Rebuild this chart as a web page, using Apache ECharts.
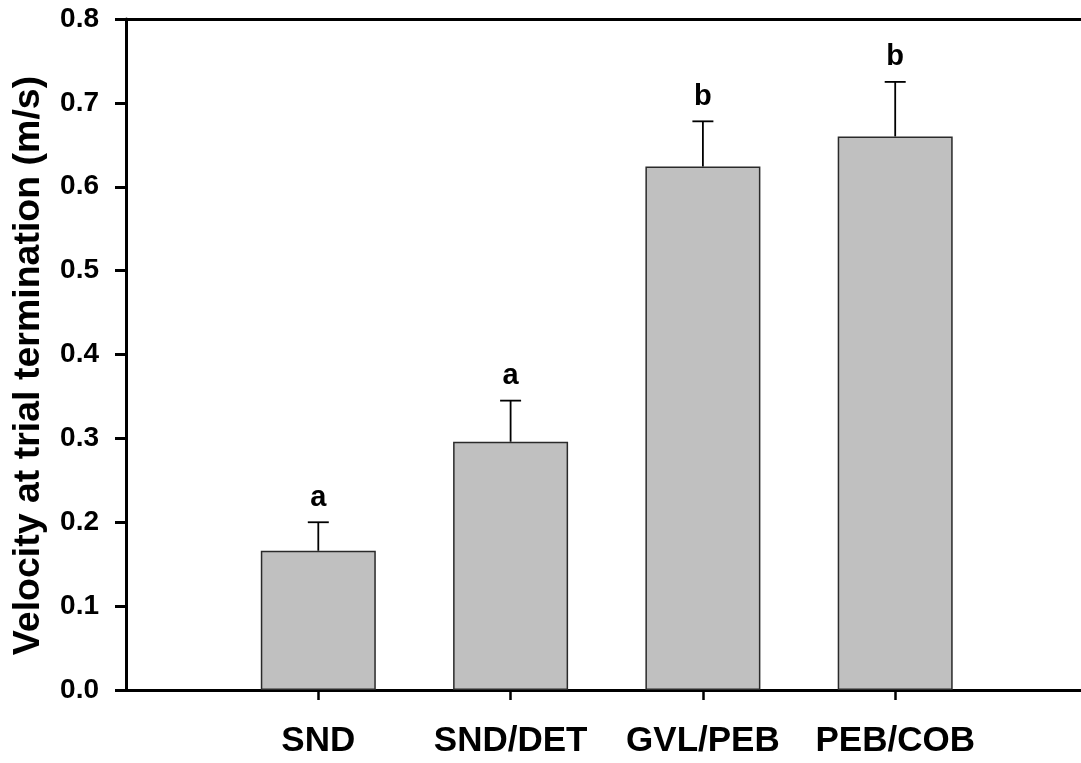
<!DOCTYPE html>
<html><head><meta charset="utf-8">
<script src="https://cdn.jsdelivr.net/npm/echarts@6/dist/echarts.min.js"></script>
<style>html,body{margin:0;padding:0;background:#fff}#c{width:1081px;height:763px}</style>
</head><body><div id="c"></div>
<script>
const categories = ['SND', 'SND/DET', 'GVL/PEB', 'PEB/COB'];
const means = [0.166, 0.296, 0.624, 0.660];
const errUpper = [0.200, 0.345, 0.678, 0.725];
const letters = ['a', 'a', 'b', 'b'];
const yTitle = 'Velocity at trial termination (m/s)';

const axisCats = [''].concat(categories, ['']);
const barData = ['-'].concat(means, ['-']);
const errData = categories.map((c, i) => [i + 1, means[i], errUpper[i]]);
const FONT = '"Liberation Sans", Arial, Helvetica, sans-serif';

const chart = echarts.init(document.getElementById('c'), null, {renderer: 'canvas'});
chart.setOption({
  animation: false,
  backgroundColor: '#fff',
  grid: {left: 126, top: 19, width: 961.5, bottom: 73, containLabel: false, outerBoundsMode: 'none'},
  xAxis: [{
    type: 'category', data: axisCats, boundaryGap: false, position: 'bottom',
    axisLine: {show: true, lineStyle: {color: '#000', width: 3}},
    axisTick: {show: true, inside: false, length: 10, alignWithLabel: true,
      interval: (idx) => idx >= 1 && idx <= categories.length,
      lineStyle: {color: '#000', width: 2.5}},
    axisLabel: {interval: 0, margin: 34, color: '#000', fontSize: 35, fontWeight: 'bold', fontFamily: FONT},
    splitLine: {show: false}
  }, {
    type: 'category', data: axisCats, boundaryGap: false, position: 'top',
    axisLine: {show: true, lineStyle: {color: '#000', width: 3}},
    axisTick: {show: false}, axisLabel: {show: false}, splitLine: {show: false}
  }],
  yAxis: {
    type: 'value', min: 0, max: 0.8, interval: 0.1,
    name: yTitle, nameLocation: 'middle', nameRotate: 90, nameGap: 78,
    nameTextStyle: {color: '#000', fontSize: 37.5, fontWeight: 'bold', fontFamily: FONT, padding: [0, 22, 0, 0]},
    axisLine: {show: true, lineStyle: {color: '#000', width: 3}},
    axisTick: {show: true, inside: false, length: 11, lineStyle: {color: '#000', width: 3}},
    axisLabel: {margin: 27, color: '#000', fontSize: 28, fontWeight: 'bold', fontFamily: FONT,
      formatter: (v) => v.toFixed(1)},
    splitLine: {show: false}
  },
  series: [{
    type: 'bar', data: barData, barWidth: 115, z: 2,
    itemStyle: {color: '#c0c0c0', borderColor: '#2a2a2a', borderWidth: 1.5}
  }, {
    type: 'custom', data: errData, z: 3,
    encode: {x: 0, y: 1},
    renderItem: (params, api) => {
      const x = api.value(0), m = api.value(1), e = api.value(2);
      const pTop = api.coord([x, m]);
      const pErr = api.coord([x, e]);
      return {type: 'group', children: [
        {type: 'line', shape: {x1: pTop[0], y1: pTop[1], x2: pErr[0], y2: pErr[1]}, style: {stroke: '#000', lineWidth: 1.8}},
        {type: 'line', shape: {x1: pErr[0] - 10.5, y1: pErr[1], x2: pErr[0] + 10.5, y2: pErr[1]}, style: {stroke: '#000', lineWidth: 1.8}},
        {type: 'text', x: pErr[0], y: pErr[1] - 10, style: {text: letters[params.dataIndex], font: 'bold 29px ' + FONT, fill: '#000', align: 'center', verticalAlign: 'bottom'}}
      ]};
    }
  }]
});
</script></body></html>
